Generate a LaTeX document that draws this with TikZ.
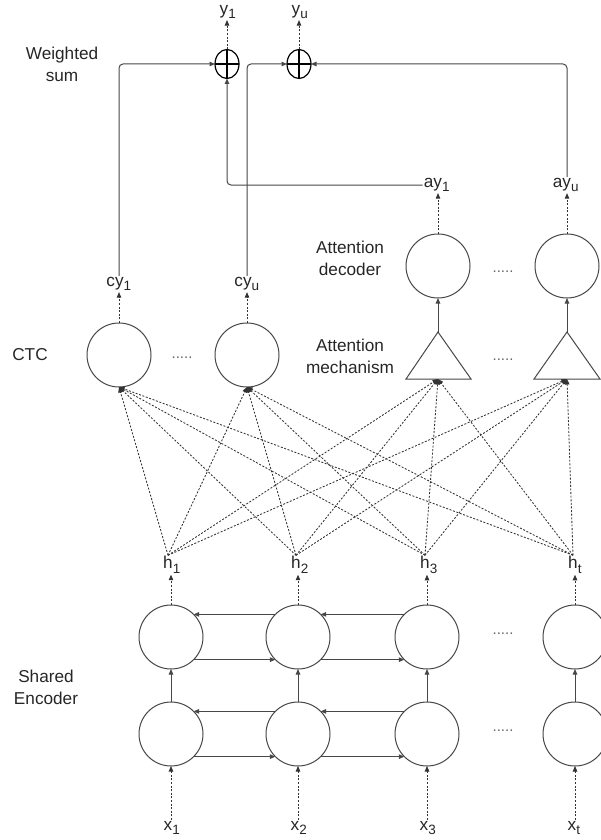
\documentclass[tikz,border=0pt]{standalone}
\usepackage{fontspec}
\setmainfont{Liberation Sans}
\usetikzlibrary{arrows.meta,shapes.geometric}
\newcommand\lowsub[1]{\rlap{\raisebox{-0.5ex}{\fontsize{13.5}{13.5}\selectfont #1}}}
\begin{document}
\begin{tikzpicture}[x=1pt,y=-1pt,
  font=\fontsize{17.2}{22}\selectfont,
  tip/.style={-{Triangle[length=5.5pt,width=4.5pt]}},
  dline/.style={tip, draw=black!80, line width=0.85pt, dash pattern=on 2pt off 1.6pt},
  sline/.style={tip, draw=black!72, line width=1pt},
  cell/.style={circle, draw=black!72, line width=1pt, minimum size=64pt, inner sep=0pt, outer sep=0pt},
  tri/.style={draw=black!72, line width=1pt, line join=miter},
  lbl/.style={inner sep=1pt, text=black!85},
  dots/.style={inner sep=0pt, text=black!60, font=\fontsize{15}{15}\selectfont},
  txt/.style={align=center, text=black!85, inner sep=0pt},
  sumnode/.style={ellipse, draw=black, line width=1.2pt, minimum width=24pt, minimum height=29pt, inner sep=0pt, outer sep=0pt,
    path picture={\draw[line width=1.2pt] (path picture bounding box.north) -- (path picture bounding box.south) (path picture bounding box.west) -- (path picture bounding box.east);}}
]
\useasboundingbox (0,0) rectangle (600,840);

% side labels
\node[txt] (lw) at (62,64) {Weighted\\sum};
\node[txt] (lctc) at (30,355) {CTC};
\node[txt] (ldec) at (350,258) {Attention\\decoder};
\node[txt] (lmech) at (350,356) {Attention\\mechanism};
\node[txt] (lenc) at (46,687) {Shared\\Encoder};

% weighted sums
\node[sumnode] (s1) at (227,64) {};
\node[sumnode] (s2) at (299,64) {};
\node[lbl] (y1) at (224,12) {y\lowsub{1}};
\node[lbl] (yu) at (296,12) {y\lowsub{u}};
\draw[dline] (s1.north) -- (s1.north |- y1.south);
\draw[dline] (s2.north) -- (s2.north |- yu.south);

% CTC
\node[cell] (c1) at (119,355) {};
\node[cell] (c2) at (247,355) {};
\node[dots] (dc) at (182,358) {.....};
\node[lbl] (cy1) at (115,284) {cy\lowsub{1}};
\node[lbl] (cyu) at (243,284) {cy\lowsub{u}};
\draw[dline] (c1.north) -- (c1.north |- cy1.south);
\draw[dline] (c2.north) -- (c2.north |- cyu.south);
\draw[sline, rounded corners=4pt] (c1.north |- cy1.north) |- (s1.west);
\draw[sline, rounded corners=4pt] (c2.north |- cyu.north) |- (s2.west);

% attention decoder
\node[cell] (d1) at (438,266) {};
\node[cell] (d2) at (567,266) {};
\node[dots] (dd) at (503,272) {.....};
\node[lbl] (ay1) at (433,185) {ay\lowsub{1}};
\node[lbl] (ayu) at (562,185) {ay\lowsub{u}};
\draw[dline] (d1.north) -- (d1.north |- ay1.south);
\draw[dline] (d2.north) -- (d2.north |- ayu.south);
\draw[sline, rounded corners=4pt] (ay1.west) -| (s1.south);
\draw[sline, rounded corners=4pt] (d2.north |- ayu.north) |- (s2.east);

% attention mechanism
\draw[tri] (438,332) coordinate (t1a) -- (471,379) -- (406,379) -- cycle;
\coordinate (t1b) at (438,379);
\draw[tri] (567,332) coordinate (t2a) -- (600,379) -- (534,379) -- cycle;
\coordinate (t2b) at (567,379);
\node[dots] (dm) at (503,360) {.....};
\draw[sline] (t1a) -- (d1.south);
\draw[sline] (t2a) -- (d2.south);

% h labels
\node[lbl] (h1) at (168,565) {h\lowsub{1}};
\node[lbl] (h2) at (296,565) {h\lowsub{2}};
\node[lbl] (h3) at (425,565) {h\lowsub{3}};
\node[lbl] (h4) at (573,565) {h\lowsub{t}};

\foreach \h in {h1,h2,h3,h4}{
  \draw[dline] (\h.north) -- (c1.south);
  \draw[dline] (\h.north) -- (c2.south);
  \draw[dline] (\h.north) -- (t1b);
  \draw[dline] (\h.north) -- (t2b);
}

% encoder
\node[cell] (e1) at (171,637) {};
\node[cell] (e2) at (298,637) {};
\node[cell] (e3) at (427,637) {};
\node[cell] (e4) at (575,637) {};
\node[cell] (f1) at (171,734) {};
\node[cell] (f2) at (298,734) {};
\node[cell] (f3) at (427,734) {};
\node[cell] (f4) at (575,734) {};
\node[dots] (de) at (503,634) {.....};
\node[dots] (df) at (503,731) {.....};

\node[lbl] (x1) at (168,828) {x\lowsub{1}};
\node[lbl] (x2) at (295,828) {x\lowsub{2}};
\node[lbl] (x3) at (424,828) {x\lowsub{3}};
\node[lbl] (x4) at (572,828) {x\lowsub{t}};

\draw[dline] (e1.north) -- (e1.north |- h1.south);
\draw[dline] (e2.north) -- (e2.north |- h2.south);
\draw[dline] (e3.north) -- (e3.north |- h3.south);
\draw[dline] (e4.north) -- (e4.north |- h4.south);

\draw[sline] (f1.north) -- (e1.south);
\draw[sline] (f2.north) -- (e2.south);
\draw[sline] (f3.north) -- (e3.south);
\draw[sline] (f4.north) -- (e4.south);

\draw[dline] (f1.south |- x1.north) -- (f1.south);
\draw[dline] (f2.south |- x2.north) -- (f2.south);
\draw[dline] (f3.south |- x3.north) -- (f3.south);
\draw[dline] (f4.south |- x4.north) -- (f4.south);

\draw[sline] (e2.135) -- (e1.45);
\draw[sline] (e1.-45) -- (e2.-135);
\draw[sline] (e3.135) -- (e2.45);
\draw[sline] (e2.-45) -- (e3.-135);
\draw[sline] (f2.135) -- (f1.45);
\draw[sline] (f1.-45) -- (f2.-135);
\draw[sline] (f3.135) -- (f2.45);
\draw[sline] (f2.-45) -- (f3.-135);
\end{tikzpicture}
\end{document}
